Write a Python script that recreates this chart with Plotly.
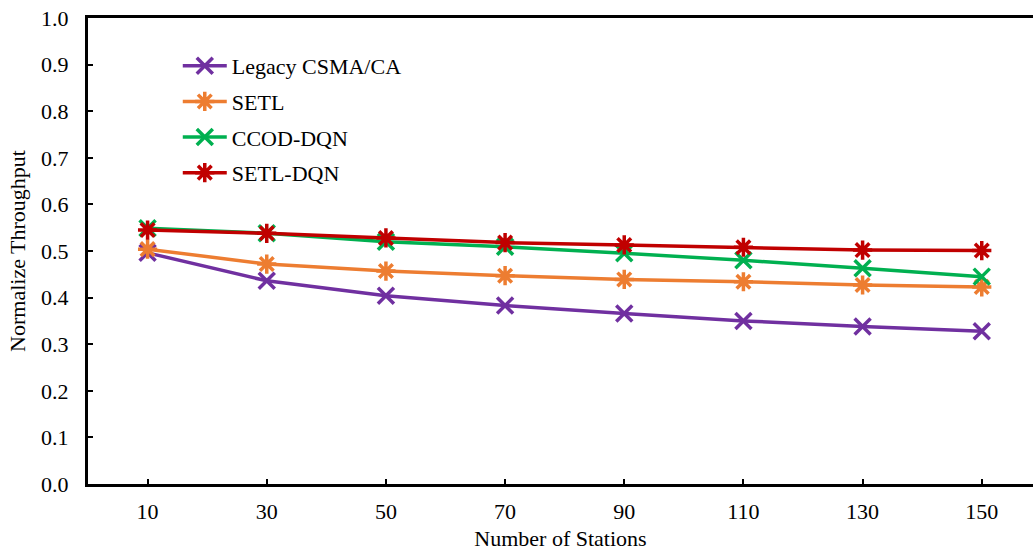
import plotly.graph_objects as go

stations = ["10", "30", "50", "70", "90", "110", "130", "150"]
legacy = [0.496, 0.436, 0.404, 0.383, 0.366, 0.350, 0.338, 0.328]
setl = [0.504, 0.472, 0.457, 0.447, 0.439, 0.434, 0.427, 0.423]
ccod = [0.549, 0.538, 0.520, 0.509, 0.495, 0.480, 0.463, 0.445]
setl_dqn = [0.545, 0.538, 0.528, 0.518, 0.513, 0.508, 0.502, 0.501]

series = [
    ("Legacy CSMA/CA", legacy, "#7030A0", "x-thin-open"),
    ("SETL", setl, "#ED7D31", "asterisk-open"),
    ("CCOD-DQN", ccod, "#00B050", "x-thin-open"),
    ("SETL-DQN", setl_dqn, "#C00000", "asterisk-open"),
]

fig = go.Figure()
for i, (name, vals, color, sym) in enumerate(series):
    fig.add_trace(go.Scatter(
        x=stations, y=vals, name=name, mode="lines+markers",
        legendgroup=f"g{i}",
        line=dict(color=color, width=3.5),
        marker=dict(symbol=sym, size=16, color=color,
                    line=dict(color=color, width=3.5)),
    ))

font_family = "Liberation Serif, Times New Roman, serif"
fig.update_layout(
    width=1033, height=554,
    margin=dict(l=88, r=0, t=18, b=70),
    paper_bgcolor="white", plot_bgcolor="white",
    font=dict(family=font_family, size=22, color="black"),
    showlegend=True,
    legend=dict(x=0.095, y=0.942, xanchor="left", yanchor="top",
                bgcolor="rgba(0,0,0,0)", traceorder="grouped",
                tracegroupgap=4, itemwidth=44, font=dict(size=22)),
    xaxis=dict(
        type="category", range=[-0.5, 7.43],
        showline=True, linecolor="black", linewidth=3, mirror=True,
        ticks="inside", ticklen=5, tickwidth=2, tickcolor="black",
        showgrid=False, zeroline=False, automargin=False,
        ticklabelstandoff=6,
        title=dict(text="Number of Stations", standoff=8, font=dict(size=22)),
        tickfont=dict(size=22),
    ),
    yaxis=dict(
        range=[0, 1.0], dtick=0.1, tickformat=".1f",
        showline=True, linecolor="black", linewidth=3, mirror=False,
        ticks="inside", ticklen=5, tickwidth=2, tickcolor="black",
        showgrid=False, zeroline=False, automargin=False,
        ticklabelstandoff=12,
        title=dict(text="Normalize Throughput", standoff=10, font=dict(size=22)),
        tickfont=dict(size=22),
    ),
)

fig.write_html("out.html", config={"displayModeBar": False},
               post_script="document.body.style.margin='0';")
